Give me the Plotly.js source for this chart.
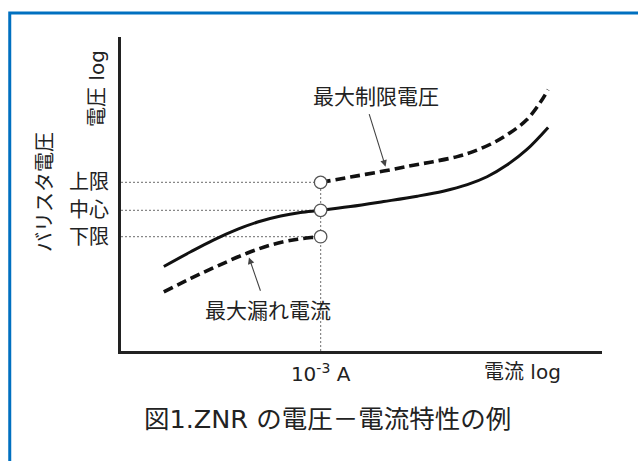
<!DOCTYPE html>
<html><head><meta charset="utf-8">
<script src="https://cdn.plot.ly/plotly-3.0.1.min.js"></script>
<style>html,body{margin:0;padding:0;background:#fff;}#chart{width:638px;height:461px;}</style>
</head><body><div id="chart"></div>
<script>
// x: log current (arbitrary units 0..10), y: log voltage (arbitrary units 0..10)
const nominalX = [0.89, 1.45, 1.93, 2.43, 2.84, 3.32, 3.73, 4.15, 4.77, 5.46, 6.16, 6.70, 7.20, 7.61, 8.03, 8.44, 8.88];
const nominalY = [2.69, 3.16, 3.54, 3.88, 4.11, 4.30, 4.41, 4.48, 4.60, 4.76, 4.93, 5.09, 5.30, 5.55, 5.93, 6.42, 7.12];
const clampX = [4.15, 4.77, 5.46, 6.02, 6.49, 6.99, 7.32, 7.74, 8.09, 8.44, 8.71, 8.88];
const clampY = [5.37, 5.54, 5.73, 5.90, 6.03, 6.19, 6.35, 6.63, 6.95, 7.37, 7.90, 8.32];
const leakX = [0.89, 1.45, 2.01, 2.63, 3.17, 3.67, 4.00, 4.15];
const leakY = [1.88, 2.31, 2.71, 3.12, 3.40, 3.56, 3.62, 3.64];
const refCurrent = 4.15;              // 10^-3 A
const levelValues = [5.37, 4.48, 3.64];
const levelLabels = ['上限', '中心', '下限'];
const xTickLabel = '10<sup>-3</sup> A';
const clampLabel = '最大制限電圧';
const leakLabel = '最大漏れ電流';

const FONT = '"DejaVu Sans", "Noto Sans CJK JP", sans-serif';
const TXT = '#222';

const traces = [];
levelValues.forEach(v => {
  traces.push({x: [0, refCurrent], y: [v, v], mode: 'lines', hoverinfo: 'skip',
    line: {color: '#888', width: 1.2, dash: '2px,2px'}, showlegend: false});
});
traces.push({x: [refCurrent, refCurrent], y: [0, levelValues[0]], mode: 'lines', hoverinfo: 'skip',
  line: {color: '#888', width: 1.2, dash: '2px,2px'}, showlegend: false});
traces.push({x: nominalX, y: nominalY, mode: 'lines', line: {color: '#111', width: 3, shape: 'spline'}, showlegend: false});
traces.push({x: clampX, y: clampY, mode: 'lines', line: {color: '#111', width: 3.6, dash: '10px,5px', shape: 'spline'}, showlegend: false});
traces.push({x: leakX, y: leakY, mode: 'lines', line: {color: '#111', width: 3.6, dash: '10px,5px', shape: 'spline'}, showlegend: false});
traces.push({x: levelValues.map(() => refCurrent), y: levelValues, mode: 'markers',
  marker: {symbol: 'circle', size: 12.5, color: '#fff', line: {color: '#555', width: 1.3}}, showlegend: false});

function px(xp) { return (xp - 121) / 481; }
function py(yp) { return (351 - yp) / 314; }

const layout = {
  width: 638, height: 461,
  margin: {l: 121, r: 36, t: 37, b: 110},
  paper_bgcolor: '#fff', plot_bgcolor: '#fff',
  font: {family: FONT, color: TXT},
  xaxis: {range: [0, 10], showgrid: false, zeroline: false, showline: true, linecolor: '#222', linewidth: 3,
    tickvals: [refCurrent], ticktext: [xTickLabel], ticks: '', ticklabelstandoff: 3,
    tickfont: {size: 20, family: FONT, color: TXT}, fixedrange: true},
  yaxis: {range: [0, 10], showgrid: false, zeroline: false, showline: true, linecolor: '#222', linewidth: 3,
    tickvals: levelValues, ticktext: levelLabels, ticks: '', ticklabelstandoff: 5,
    tickfont: {size: 20, family: FONT, color: TXT}, fixedrange: true},
  shapes: [
    {type: 'rect', xref: 'paper', yref: 'paper', x0: -0.2313, x1: 1.3, y0: -0.6, y1: 1.0762,
      line: {color: '#0070C0', width: 3}, fillcolor: 'rgba(0,0,0,0)', layer: 'below'}
  ],
  annotations: [
    {x: 5.31, y: 8.10, text: clampLabel, showarrow: false, font: {size: 21}, xanchor: 'center', yanchor: 'middle'},
    {x: 5.50, y: 5.87, ax: 5.15, ay: 7.59, axref: 'x', ayref: 'y', text: '', showarrow: true,
      arrowhead: 2, arrowsize: 1.2, arrowwidth: 1.1, arrowcolor: '#444'},
    {x: 3.05, y: 1.27, text: leakLabel, showarrow: false, font: {size: 21}, xanchor: 'center', yanchor: 'middle'},
    {x: 2.66, y: 2.98, ax: 2.91, ay: 1.87, axref: 'x', ayref: 'y', text: '', showarrow: true,
      arrowhead: 2, arrowsize: 1.2, arrowwidth: 1.1, arrowcolor: '#444'},
    {xref: 'paper', yref: 'paper', x: px(97), y: py(89), text: '電圧 log', xanchor: 'center', yanchor: 'middle',
      textangle: -90, showarrow: false, font: {size: 20}},
    {xref: 'paper', yref: 'paper', x: px(45), y: py(192), text: 'バリスタ電圧', xanchor: 'center', yanchor: 'middle',
      textangle: -90, showarrow: false, font: {size: 20}},
    {xref: 'paper', yref: 'paper', x: px(522), y: py(372), text: '電流 log', xanchor: 'center', yanchor: 'middle',
      showarrow: false, font: {size: 20}},
    {xref: 'paper', yref: 'paper', x: px(327), y: py(419), text: '図1.ZNR の電圧－電流特性の例', xanchor: 'center', yanchor: 'middle',
      showarrow: false, font: {size: 25.5}}
  ]
};
Plotly.newPlot('chart', traces, layout, {displayModeBar: false, staticPlot: true});
</script></body></html>
